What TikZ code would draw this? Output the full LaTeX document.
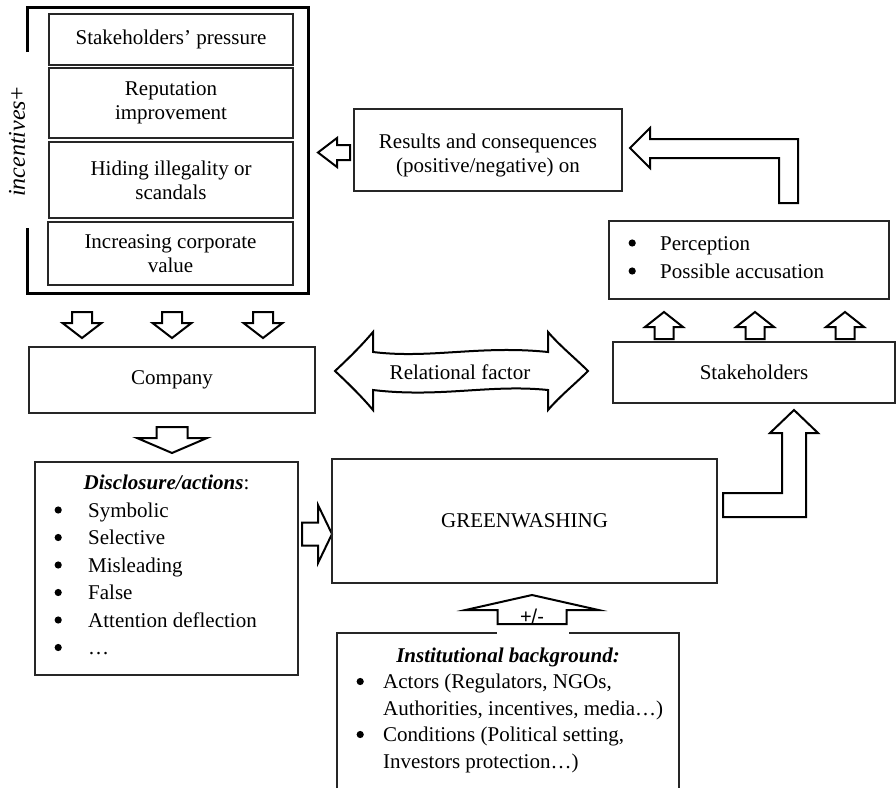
\documentclass[tikz,border=0pt]{standalone}
\usepackage{fontspec}
\setmainfont{Liberation Serif}
\newfontfamily\arialfont{Liberation Sans}
\usepackage{tikz}
\usetikzlibrary{positioning}
\newcommand\BlockArrowV[6]{% x, start y, head y, tip y, half shaft, half head
  \draw[blockarrow] ({#1-#5},#2) -- ({#1-#5},#3) -- ({#1-#6},#3) -- (#1,#4)
    -- ({#1+#6},#3) -- ({#1+#5},#3) -- ({#1+#5},#2) -- cycle;
}
\newcommand\BlockArrowH[6]{% y, start x, head x, tip x, half shaft, half head
  \draw[blockarrow] (#2,{#1-#5}) -- (#3,{#1-#5}) -- (#3,{#1-#6}) -- (#4,#1)
    -- (#3,{#1+#6}) -- (#3,{#1+#5}) -- (#2,{#1+#5}) -- cycle;
}
\newcommand\bul{\tikz[baseline=0pt]\fill[black] (3.6pt,7pt) circle[radius=3.6pt];}
\tikzset{%
  box/.style={draw=black!85,line width=1.2pt,inner sep=0pt,align=center},
  boxline/.style={draw=black!85,line width=1.2pt},
  blockarrow/.style={draw=black,line width=2pt,fill=white,line join=miter},
  listtext/.style={anchor=base west,inner sep=0pt},
  titletext/.style={anchor=base,inner sep=0pt}
}

\begin{document}
\begin{tikzpicture}[x=1pt,y=-1pt,font=\fontsize{21}{24}\selectfont]
\useasboundingbox (0,0) rectangle (896,788);

\draw[line width=3pt,line join=miter] (27,52) -- (27,7) -- (308,7) -- (308,293) -- (27,293) -- (27,228); %frame
\node[rotate=90,inner sep=0pt,font=\fontsize{24}{28}\selectfont] (incent) at (17,142) {\textit{incentives}+};

\node[box,minimum width=244pt,minimum height=51pt] (pressure) at (171,39.5) {Stakeholders’ pressure};
\node[box,minimum width=244pt,minimum height=70pt] (reput) at (171,103) {Reputation\\improvement};
\node[box,minimum width=244pt,minimum height=76pt] (hiding) at (171,180) {Hiding illegality or\\scandals};
\node[box,minimum width=245pt,minimum height=63pt] (value) at (170.5,253.5) {Increasing corporate\\value};

\BlockArrowV{82}{312}{323}{338}{10}{19.5}
\BlockArrowV{172}{312}{323}{338}{10}{19.5}
\BlockArrowV{263}{312}{323}{338}{10}{19.5}

\node[box,minimum width=286pt,minimum height=66pt] (company) at (172,380) {Company};
\BlockArrowV{172}{427}{438}{453}{15.5}{35}

% disclosure
\node[box,minimum width=263pt,minimum height=213pt] (discl) at (166.5,568.5) {};
\node[titletext] (discltitle) at (166.5,489) {\textbf{\textit{Disclosure/actions}}:};
\node[listtext] (discllist) at (54.4,517) {\fontsize{21}{27.5}\selectfont
  \begin{tabular}[t]{@{}p{33.6pt}@{}l@{}}
  \bul & Symbolic\\
  \bul & Selective\\
  \bul & Misleading\\
  \bul & False\\
  \bul & Attention deflection\\
  \bul & …
  \end{tabular}};
\BlockArrowH{534}{302}{318}{332}{11.5}{29}

\node[box,minimum width=385pt,minimum height=124pt] (green) at (524.5,521) {GREENWASHING};

% institutional background
\draw[boxline] (337,788) |- (497,633) (569,633) -| (679,788);
\node[titletext] (insttitle) at (508,662) {\textbf{\textit{Institutional background:}}};
\node[listtext] (instlist) at (356.4,688.5) {\fontsize{21}{26.5}\selectfont
  \begin{tabular}[t]{@{}p{26.6pt}@{}l@{}}
  \bul & Actors (Regulators, NGOs,\\
       & Authorities, incentives, media…)\\
  \bul & Conditions (Political setting,\\
       & Investors protection…)
  \end{tabular}};
\BlockArrowV{532}{624}{610}{595}{34.5}{66.5}
\node[inner sep=0pt,font=\arialfont\fontsize{20}{22}\selectfont] (pm) at (532,616.5) {+/-};

% relational factor
\draw[blockarrow] (335,371) .. controls (350,357) and (362,345) .. (373,332) -- (373,352)
  .. controls (430,359) and (480,345) .. (548,352) -- (548,332)
  .. controls (560,346) and (575,358) .. (588,371)
  .. controls (575,384) and (560,396) .. (548,410) -- (548,390)
  .. controls (490,384) and (440,398) .. (373,390) -- (373,410)
  .. controls (362,397) and (350,385) .. (335,371) -- cycle;
\node[inner sep=0pt] (relat) at (460,372) {Relational factor};

\node[box,minimum width=282pt,minimum height=61pt] (stake) at (754,372.5) {Stakeholders};
\draw[blockarrow] (723,493) -- (782,493) -- (782,433) -- (770,433) -- (794,410) -- (818,433)
  -- (806,433) -- (806,517) -- (723,517) -- cycle; %up to stakeholders

\BlockArrowV{664}{339}{327}{312}{9.5}{19}
\BlockArrowV{755}{339}{327}{312}{9.5}{19}
\BlockArrowV{845}{339}{327}{312}{9.5}{19}

% perception
\node[box,minimum width=280pt,minimum height=78pt] (percep) at (749,260) {};
\node[listtext] (perceplist) at (628.4,250) {\fontsize{21}{28}\selectfont
  \begin{tabular}[t]{@{}p{31.6pt}@{}l@{}}
  \bul & Perception\\
  \bul & Possible accusation
  \end{tabular}};

\draw[blockarrow] (630,148) -- (650,128) -- (650,139) -- (798,139) -- (798,203) -- (779,203)
  -- (779,158) -- (650,158) -- (650,168) -- cycle; %back to results
\node[box,minimum width=268pt,minimum height=82pt] (results) at (488,150) {};
\node[align=center,inner sep=0pt] (resultstext) at (488,155) {Results and consequences\\(positive/negative) on};
\BlockArrowH{152.5}{350}{337}{318}{7.5}{14.5}
\end{tikzpicture}
\end{document}
